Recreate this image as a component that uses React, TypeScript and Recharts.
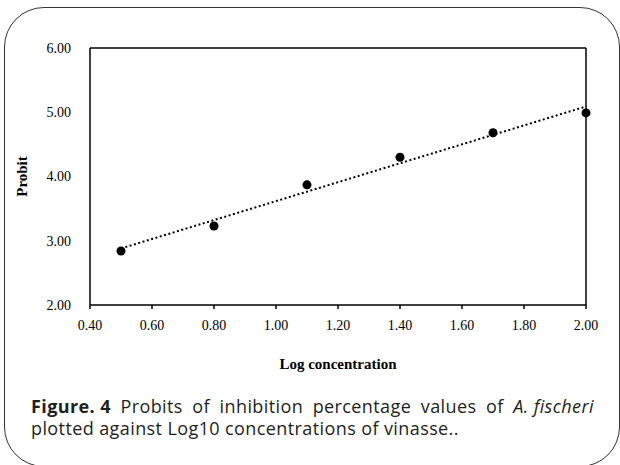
import React from 'react';
import { ScatterChart, Scatter, XAxis, YAxis, ZAxis, ReferenceLine } from 'recharts';

const logConc = [0.5, 0.8, 1.1, 1.4, 1.7, 2.0];
const probit = [2.84, 3.23, 3.87, 4.3, 4.68, 4.99];
const trendX = [0.5, 2.0];
const trendY = [2.88, 5.09];
const xTicks = [0.4, 0.6, 0.8, 1.0, 1.2, 1.4, 1.6, 1.8, 2.0];
const yTicks = [2, 3, 4, 5, 6];

const points = logConc.map((x, i) => ({ x, y: probit[i] }));
const trend = trendX.map((x, i) => ({ x, y: trendY[i] }));

const serif = '"Liberation Serif", "Times New Roman", serif';
const tickStyle = { fontFamily: serif, fontSize: 14, fill: '#000' };
const labelStyle = { fontFamily: serif, fontSize: 15, fontWeight: 'bold', fill: '#000' };
const captionFont = '"Open Sans", "Noto Sans", sans-serif';

const App: React.FC = () => {
  return (
    <div style={{ position: 'absolute', left: 0, top: 0, width: 620, height: 465, overflow: 'hidden', background: '#fff' }}>
      <div
        style={{
          position: 'absolute', left: 4, top: 7, width: 616, height: 460,
          border: '1.5px solid #333', borderRadius: 40, boxSizing: 'border-box',
        }}
      />
      <div style={{ position: 'absolute', left: 0, top: 0 }}>
        <ScatterChart width={620} height={380} margin={{ top: 48, right: 34, bottom: 0, left: 0 }}>
          <XAxis
            type="number" dataKey="x" domain={[0.4, 2.0]} ticks={xTicks}
            tickFormatter={(v: number) => v.toFixed(2)}
            height={75} tickSize={4} tickMargin={11}
            stroke="#000" strokeWidth={1.5} tick={tickStyle}
            label={{ value: 'Log concentration', position: 'insideBottom', offset: 11, style: labelStyle }}
          />
          <YAxis
            type="number" dataKey="y" domain={[2, 6]} ticks={yTicks}
            tickFormatter={(v: number) => v.toFixed(2)}
            width={90} tickLine={false} tickMargin={13}
            stroke="#000" strokeWidth={1.5} tick={tickStyle}
            label={{ value: 'Probit', angle: -90, position: 'insideLeft', offset: 22, style: { ...labelStyle, textAnchor: 'middle' } }}
          />
          <ZAxis range={[85, 85]} />
          <ReferenceLine y={6} stroke="#000" strokeWidth={1.5} />
          <ReferenceLine x={2.0} stroke="#000" strokeWidth={1.5} />
          <Scatter
            data={trend} line={{ stroke: '#000', strokeWidth: 2, strokeDasharray: '2 2.5' }}
            shape={() => <g />} isAnimationActive={false} legendType="none"
          />
          <Scatter data={points} fill="#000" shape="circle" isAnimationActive={false} />
        </ScatterChart>
      </div>
      <div
        style={{
          position: 'absolute', left: 31, top: 395, width: 563,
          fontFamily: captionFont, fontSize: 18, lineHeight: '22px', color: '#231f20', letterSpacing: 0.4,
        }}
      >
        <div style={{ whiteSpace: 'nowrap', display: 'flex', justifyContent: 'space-between' }}>
          <span><b>Figure.</b> <b>4</b></span>
          <span>Probits</span><span>of</span><span>inhibition</span><span>percentage</span><span>values</span><span>of</span>
          <span><i>A. fischeri</i></span>
        </div>
        <div style={{ whiteSpace: 'nowrap' }}>plotted against Log10 concentrations of vinasse..</div>
      </div>
    </div>
  );
};

export default App;
